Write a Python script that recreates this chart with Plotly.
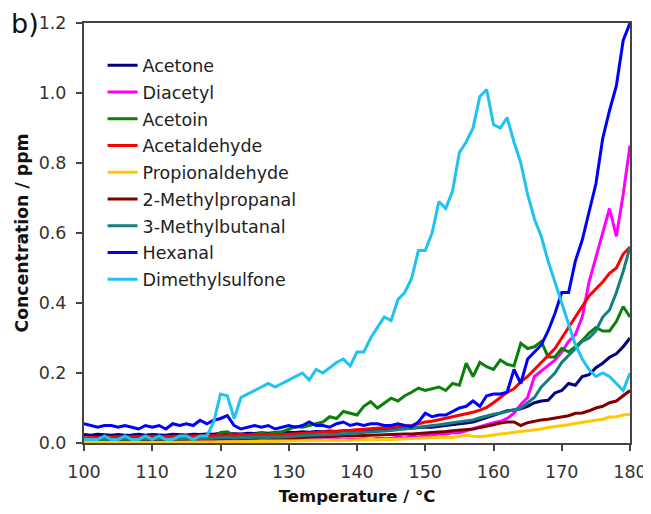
import plotly.graph_objects as go

temperature = list(range(100, 181))

acetone = [
    .024, .022, .025, .023, .022, .024, .022, .023, .025, .022,
    .024, .023, .022, .025, .024, .023, .025, .024, .026, .025,
    .028, .027, .025, .026, .028, .027, .029, .028, .030, .029,
    .031, .030, .032, .031, .033, .032, .034, .033, .035, .036,
    .035, .037, .038, .037, .039, .040, .042, .041, .043, .044,
    .046, .045, .048, .050, .052, .055, .057, .060, .066, .072,
    .080, .085, .092, .094, .098, .105, .115, .120, .122, .143,
    .150, .170, .165, .190, .195, .215, .228, .245, .255, .275,
    .300]

diacetyl = [
    .004, .003, .004, .003, .003, .004, .003, .004, .003, .003,
    .004, .003, .004, .003, .004, .003, .004, .004, .003, .004,
    .005, .004, .005, .006, .005, .006, .005, .006, .007, .006,
    .007, .008, .007, .008, .009, .008, .009, .010, .009, .011,
    .011, .012, .011, .013, .014, .013, .018, .014, .020, .017,
    .022, .021, .026, .025, .030, .029, .035, .040, .046, .052,
    .058, .062, .070, .085, .110, .130, .190, .205, .220, .237,
    .260, .290, .310, .360, .460, .530, .600, .670, .590, .710,
    .850]

acetoin = [
    .008, .009, .007, .008, .009, .008, .007, .009, .008, .009,
    .008, .009, .010, .009, .010, .011, .010, .012, .012, .015,
    .030, .032, .022, .025, .022, .026, .028, .025, .030, .032,
    .040, .047, .045, .050, .055, .060, .075, .070, .090, .085,
    .080, .105, .118, .100, .115, .128, .120, .135, .145, .157,
    .150, .155, .160, .150, .170, .165, .228, .190, .230, .218,
    .210, .237, .225, .220, .285, .270, .275, .290, .246, .246,
    .270, .260, .275, .293, .314, .330, .320, .320, .347, .390,
    .360]

acetaldehyde = [
    .015, .016, .017, .016, .017, .018, .017, .018, .018, .019,
    .019, .018, .019, .020, .019, .020, .020, .021, .020, .021,
    .021, .022, .021, .022, .022, .023, .022, .023, .023, .024,
    .025, .026, .027, .028, .029, .030, .032, .033, .035, .036,
    .038, .039, .041, .042, .044, .045, .047, .048, .050, .055,
    .060, .062, .066, .070, .074, .080, .083, .088, .094, .102,
    .115, .130, .145, .155, .175, .190, .210, .230, .250, .270,
    .300, .330, .360, .390, .420, .440, .460, .485, .500, .540,
    .560]

propionaldehyde = [
    .002, .003, .002, .002, .003, .002, .002, .003, .002, .002,
    .003, .002, .003, .003, .002, .003, .003, .003, .004, .003,
    .004, .004, .003, .004, .004, .005, .004, .005, .005, .006,
    .006, .005, .006, .007, .006, .007, .008, .007, .008, .008,
    .009, .008, .010, .009, .011, .010, .011, .012, .013, .012,
    .014, .015, .016, .017, .016, .018, .022, .019, .018, .020,
    .024, .026, .028, .030, .032, .035, .038, .040, .044, .046,
    .048, .052, .056, .060, .062, .065, .068, .074, .075, .080,
    .082]

methylpropanal = [
    .010, .009, .010, .011, .010, .009, .010, .011, .010, .010,
    .011, .010, .011, .011, .012, .011, .012, .012, .011, .012,
    .013, .012, .013, .013, .014, .013, .014, .014, .015, .015,
    .016, .015, .016, .017, .017, .018, .018, .019, .020, .020,
    .021, .022, .022, .023, .024, .024, .025, .026, .026, .027,
    .028, .030, .031, .033, .035, .036, .038, .040, .044, .047,
    .052, .057, .060, .060, .050, .058, .063, .066, .068, .072,
    .075, .078, .085, .086, .092, .100, .105, .115, .120, .135,
    .150]

methylbutanal = [
    .012, .011, .012, .010, .011, .012, .011, .010, .011, .012,
    .011, .012, .011, .012, .013, .012, .013, .012, .013, .014,
    .015, .016, .014, .015, .016, .015, .017, .016, .018, .017,
    .019, .020, .021, .022, .022, .023, .024, .025, .026, .027,
    .028, .030, .031, .033, .034, .036, .038, .040, .042, .045,
    .048, .050, .052, .055, .058, .060, .063, .066, .072, .078,
    .082, .085, .090, .095, .100, .115, .130, .160, .180, .200,
    .230, .250, .270, .290, .300, .320, .360, .380, .430, .490,
    .560]

hexanal = [
    .055, .050, .045, .050, .050, .045, .050, .045, .040, .050,
    .045, .050, .040, .055, .050, .055, .050, .065, .055, .065,
    .070, .078, .050, .040, .045, .050, .045, .050, .040, .045,
    .050, .045, .050, .060, .050, .050, .045, .055, .060, .050,
    .055, .050, .055, .055, .050, .050, .055, .050, .047, .060,
    .085, .075, .080, .080, .090, .100, .105, .120, .105, .135,
    .140, .140, .145, .210, .170, .240, .260, .280, .320, .370,
    .430, .430, .520, .580, .660, .740, .870, .950, 1.020, 1.150,
    1.200]

dimethylsulfone = [
    .010, .010, .010, .020, .010, .010, .020, .010, .010, .020,
    .010, .020, .010, .010, .020, .020, .010, .020, .020, .060,
    .140, .135, .070, .130, .140, .150, .160, .170, .160, .170,
    .180, .190, .200, .180, .210, .200, .215, .230, .240, .220,
    .260, .260, .300, .330, .360, .350, .410, .430, .470, .550,
    .550, .600, .690, .670, .720, .830, .860, .900, .990, 1.010,
    .910, .900, .930, .860, .800, .710, .640, .590, .520, .460,
    .400, .340, .280, .240, .210, .190, .200, .190, .170, .150,
    .200]

series_names = ["Acetone", "Diacetyl", "Acetoin", "Acetaldehyde",
                "Propionaldehyde", "2-Methylpropanal", "3-Methylbutanal",
                "Hexanal", "Dimethylsulfone"]
series_values = [acetone, diacetyl, acetoin, acetaldehyde, propionaldehyde,
                 methylpropanal, methylbutanal, hexanal, dimethylsulfone]
series_colors = ["#000080", "#FF00FF", "#0A800A", "#FF0000", "#FFC800",
                 "#800000", "#138080", "#0000FF", "#1EC3F0"]

x_ticks = [100, 110, 120, 130, 140, 150, 160, 170, 180]
y_ticks = [0.0, 0.2, 0.4, 0.6, 0.8, 1.0, 1.2]

FONT = "DejaVu Sans"

fig = go.Figure()
for name, vals, col in zip(series_names, series_values, series_colors):
    fig.add_trace(go.Scatter(
        x=temperature, y=vals, mode="lines", name=name,
        legendgroup=name,
        line=dict(color=col, width=3),
    ))

axis_common = dict(
    showgrid=False, zeroline=False, showline=True, mirror=True,
    linecolor="#444444", linewidth=2, ticks="outside", ticklen=6,
    tickwidth=1.5, tickcolor="#444444", automargin=False,
    tickfont=dict(family=FONT, size=17.5, color="#333333"),
)

# The page body adds an 8px offset, so the figure is sized to fit.
fig.update_layout(
    width=643, height=506,
    margin=dict(l=76, r=21, t=15, b=71, autoexpand=False),
    paper_bgcolor="white", plot_bgcolor="white",
    showlegend=True,
    legend=dict(
        x=0.034, y=0.942, xanchor="left", yanchor="top",
        bgcolor="rgba(0,0,0,0)", borderwidth=0,
        font=dict(family=FONT, size=17.5, color="#222222"),
        tracegroupgap=1, itemwidth=30,
    ),
    xaxis=dict(range=[100, 180], tickvals=x_ticks,
               ticktext=[str(v) for v in x_ticks],
               ticklabelstandoff=6,
               title=dict(text="<b>Temperature / °C</b>", standoff=9,
                          font=dict(family=FONT, size=16.5, color="#111111")),
               **axis_common),
    yaxis=dict(range=[0, 1.2], tickvals=y_ticks,
               ticktext=[f"{v:.1f}" for v in y_ticks],
               ticklabelstandoff=6,
               title=dict(text="<b>Concentration / ppm</b>", standoff=6,
                          font=dict(family=FONT, size=17.3, color="#111111")),
               **axis_common),
    annotations=[dict(text="b)", xref="paper", yref="paper", x=-0.137, y=1.0,
                      xanchor="left", yanchor="middle", showarrow=False,
                      font=dict(family=FONT, size=27, color="#111111"))],
)

fig.write_html("out.html")
